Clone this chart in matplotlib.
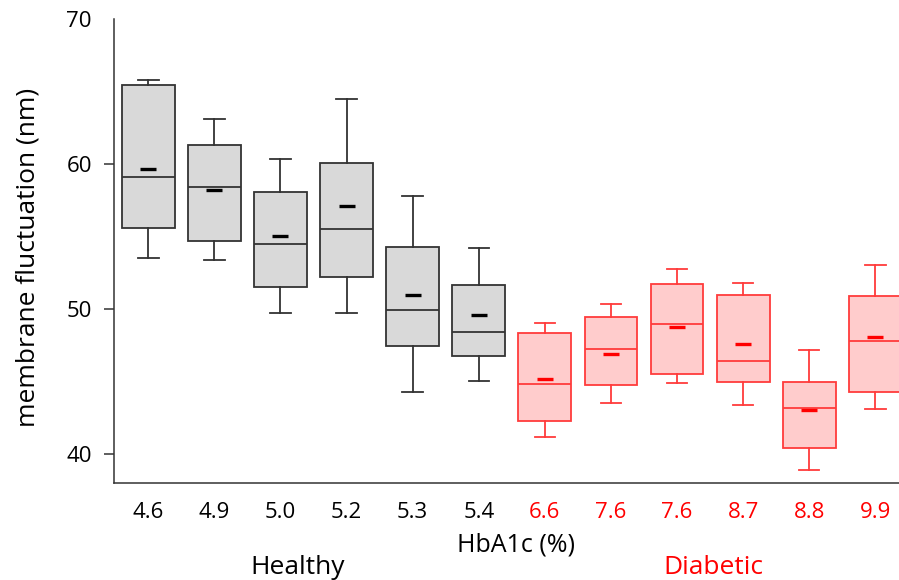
import matplotlib
matplotlib.use("Agg")
import matplotlib.pyplot as plt

# ---- data ----
hba1c_labels = ["4.6", "4.9", "5.0", "5.2", "5.3", "5.4",
                "6.6", "7.6", "7.6", "8.7", "8.8", "9.9"]
groups = ["Healthy"] * 6 + ["Diabetic"] * 6
whisker_low = [53.5, 53.4, 49.7, 49.75, 44.3, 45.05, 41.2, 43.5, 44.9, 43.4, 38.9, 43.1]
q1          = [55.6, 54.7, 51.55, 52.2, 47.45, 46.8, 42.3, 44.75, 45.5, 45.0, 40.45, 44.25]
median      = [59.15, 58.4, 54.5, 55.5, 49.95, 48.4, 44.8, 47.25, 48.95, 46.45, 43.15, 47.8]
q3          = [65.5, 61.35, 58.05, 60.05, 54.3, 51.65, 48.35, 49.45, 51.75, 51.0, 44.95, 50.9]
whisker_hi  = [65.8, 63.15, 60.35, 64.5, 57.8, 54.2, 49.05, 50.35, 52.8, 51.8, 47.15, 53.05]
mean        = [59.7, 58.25, 55.05, 57.1, 51.0, 49.6, 45.15, 46.9, 48.8, 47.6, 43.05, 48.05]

plt.rcParams['font.family'] = ['Open Sans', 'DejaVu Sans']

fig = plt.figure(figsize=(8.99, 5.8), dpi=100)
ax = fig.add_axes([0.1268, 0.1672, 0.891, 0.7995])

styles = {
    "Healthy": dict(edge="#333333", fill="#d9d9d9", mean="black", text="black"),
    "Diabetic": dict(edge="#ff3b3b", fill="#ffcccc", mean="red", text="red"),
}

for i in range(len(hba1c_labels)):
    st = styles[groups[i]]
    stats = [dict(whislo=whisker_low[i], q1=q1[i], med=median[i], q3=q3[i],
                  whishi=whisker_hi[i], mean=mean[i], fliers=[], label=hba1c_labels[i])]
    ax.bxp(stats, positions=[i + 1], widths=0.8, showmeans=True, patch_artist=True,
           showfliers=False, capwidths=0.31,
           boxprops=dict(facecolor=st["fill"], edgecolor=st["edge"], linewidth=1.3),
           whiskerprops=dict(color=st["edge"], linewidth=1.3),
           capprops=dict(color=st["edge"], linewidth=1.3),
           medianprops=dict(color=st["edge"], linewidth=1.3),
           meanprops=dict(marker="_", markersize=12, markeredgewidth=2.4,
                          markeredgecolor=st["mean"], markerfacecolor=st["mean"]))

ax.set_xlim(0.481, 12.6)
ax.set_ylim(38, 70)
ax.set_xticks(range(1, len(hba1c_labels) + 1))
ax.set_xticklabels(hba1c_labels)
for lbl, g in zip(ax.get_xticklabels(), groups):
    lbl.set_color(styles[g]["text"])
ax.set_yticks([40, 50, 60, 70])
ax.tick_params(axis='x', length=0, pad=14, labelsize=16)
ax.tick_params(axis='y', length=7, width=1.1, color="#333333", pad=9, labelsize=16)
ax.yaxis.get_major_ticks()[-1].tick1line.set_visible(False)

for s in ["top", "right"]:
    ax.spines[s].set_visible(False)
for s in ["left", "bottom"]:
    ax.spines[s].set_linewidth(1.1)
    ax.spines[s].set_color("#333333")

fig.text(0.0311, 0.557, "membrane fluctuation (nm)", rotation=90,
         ha="center", va="center", fontsize=19)
fig.text(0.574, 0.0603, "HbA1c (%)", ha="center", va="center", fontsize=18)
fig.text(0.3315, 0.0224, "Healthy", ha="center", va="center", fontsize=19)
fig.text(0.793, 0.0224, "Diabetic", ha="center", va="center", fontsize=19, color="red")

fig.savefig("out.png", dpi=100)
